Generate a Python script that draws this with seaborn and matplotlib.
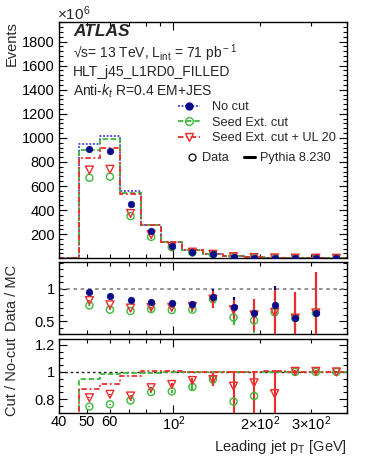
import numpy as np
import pandas as pd
import matplotlib
matplotlib.use("Agg")
import matplotlib.pyplot as plt
import seaborn as sns
from matplotlib.lines import Line2D
from matplotlib.ticker import FixedLocator, FuncFormatter, MultipleLocator, NullFormatter

# ---------------- data ----------------
bin_edges = [40, 47, 55.4, 65.3, 77.0, 90.8, 107.1, 126.3, 148.9, 175.5, 207.0, 244.0, 287.7, 339.3, 400]

# MC (Pythia) histograms, x10^6 events (first bin 40-47 empty)
mc_nocut = [0, 947, 1017, 556, 275, 136, 70, 37, 20, 9, 5, 2.5, 1.2, 0.6]
mc_seed = [0, 900, 989, 545, 274, 136, 70, 37, 20, 9, 5, 2.5, 1.2, 0.6]
mc_ul20 = [0, 831, 914, 535, 276, 136, 70, 37, 20, 9, 5, 2.5, 1.2, 0.6]

# Data, x10^6 events (bins from 47 GeV)
data_nocut = [906, 892, 453, 224, 105, 55, 34, 14.5, 6.5, 3.7, 1.4, 0.75, 0.35]
data_seed = [669, 678, 350, 178, 92, 48, 32, 11, 5.5, 3.0, 1.4, 0.75, 0.35]
data_ul20 = [733, 739, 372, 197, 98, 51, 33, 13, 6.0, 3.1, 1.4, 0.75, 0.35]

# Data / MC
dm_nocut = [0.959, 0.883, 0.832, 0.80, 0.79, 0.766, 0.882, 0.72, 0.63, 0.745, 0.55, 0.63, np.nan]
dm_seed = [0.745, 0.68, 0.659, 0.69, 0.674, 0.68, 0.842, 0.56, 0.515, 0.64, 0.55, 0.63, np.nan]
dm_ul20 = [0.82, 0.755, 0.705, 0.715, 0.715, 0.73, 0.842, 0.68, 0.60, 0.64, 0.55, 0.63, np.nan]
dm_err_nocut = [0.004, 0.004, 0.006, 0.01, 0.015, 0.03, 0.12, 0.15, 0.2, 0.3, 0.4, 0.62, np.nan]
dm_err_seed = [0.004, 0.004, 0.006, 0.01, 0.015, 0.03, 0.12, 0.11, 0.2, 0.3, 0.4, 0.62, np.nan]
dm_err_ul20 = [0.004, 0.004, 0.006, 0.01, 0.015, 0.03, 0.13, 0.15, 0.25, 0.34, 0.395, 0.625, np.nan]

# Cut / No-cut
mcr_seed = [0, 0.951, 0.985, 0.99, 0.995, 1.0, 1.0, 1.0, 1.0, 1.0, 1.0, 1.0, 1.0, 1.0]
mcr_ul20 = [0, 0.871, 0.913, 0.968, 1.008, 1.005, 1.0, 1.003, 1.0, 1.0, 1.01, 1.0, 1.0, 1.0]
cr_seed = [0.745, 0.762, 0.79, 0.852, 0.857, 0.89, 0.944, 0.782, 0.823, np.nan, 1.0, 1.0, 1.0]
cr_ul20 = [0.81, 0.835, 0.823, 0.884, 0.908, 0.937, 0.944, 0.895, 0.92, 0.84, 1.004, 1.004, 1.0]
cr_seed_lo = [0.005, 0.005, 0.005, 0.008, 0.01, 0.02, 0.05, 0.3, 0.3, np.nan, 0.01, 0.01, 0.01]
cr_seed_hi = [0.005, 0.005, 0.005, 0.008, 0.01, 0.02, 0.05, 0.05, 0.05, np.nan, 0.01, 0.01, 0.01]
cr_ul20_lo = [0.005, 0.005, 0.005, 0.008, 0.01, 0.02, 0.05, 0.3, 0.3, 0.3, 0.01, 0.01, 0.01]
cr_ul20_hi = [0.005, 0.005, 0.005, 0.008, 0.01, 0.02, 0.05, 0.11, 0.085, 0.177, 0.01, 0.01, 0.01]

x_ticks_minor = [40, 50, 60, 70, 80, 90, 200, 300, 400]
x_tick_labels = {40: "40", 50: "50", 60: "60", 200: r"$2{\times}10^{2}$", 300: r"$3{\times}10^{2}$"}

# ---------------- style ----------------
sns.set_style("ticks")
plt.rcParams["font.family"] = ["Liberation Sans", "DejaVu Sans"]
plt.rcParams["mathtext.fontset"] = "custom"
plt.rcParams["mathtext.rm"] = "Liberation Sans"
plt.rcParams["mathtext.it"] = "Liberation Sans:italic"
plt.rcParams["mathtext.bf"] = "Liberation Sans:bold"

NAVY = "#0a0a8c"
BLUE = "#3a3ae0"
GREEN = "#3cb83c"
RED = "#ee2b2b"
LS_BLUE = (0, (1, 1))
LS_GREEN = (0, (3, 1.5))
LS_RED = (0, (3, 1.5, 1, 1.5))
LW = 1.3
TICK_FS = 10.5

fig = plt.figure(figsize=(3.66, 4.74), dpi=100)
L, W = 0.1612, 0.7861
ax1 = fig.add_axes([L, 0.4551, W, 0.4991])
ax2 = fig.add_axes([L, 0.2947, W, 0.1519])
ax3 = fig.add_axes([L, 0.1293, W, 0.1549])

edges = np.array(bin_edges)
centers = np.sqrt(edges[1:-1] * edges[2:])


def step(ax, vals, color, ls):
    y = list(vals) + [vals[-1]]
    sns.lineplot(x=list(edges), y=y, ax=ax, color=color, linestyle=ls, lw=LW,
                 drawstyle="steps-post", estimator=None, sort=False)


# ---------------- top panel ----------------
step(ax1, mc_nocut, BLUE, LS_BLUE)
step(ax1, mc_seed, GREEN, LS_GREEN)
step(ax1, mc_ul20, RED, LS_RED)
sns.scatterplot(x=centers, y=data_seed, ax=ax1, marker="o", s=26, facecolor="none",
                edgecolor=GREEN, linewidth=1.0, zorder=4)
sns.scatterplot(x=centers, y=data_ul20, ax=ax1, marker="v", s=32, facecolor="none",
                edgecolor=RED, linewidth=1.0, zorder=5)
sns.scatterplot(x=centers, y=data_nocut, ax=ax1, marker="o", s=22, color=NAVY,
                edgecolor=NAVY, linewidth=0.5, zorder=6)

ax1.set_ylim(0, 1965)
ax1.yaxis.set_major_locator(FixedLocator([200, 400, 600, 800, 1000, 1200, 1400, 1600, 1800]))
ax1.yaxis.set_minor_locator(MultipleLocator(40))

# ---------------- middle panel ----------------
ax2.axhline(1.0, color="#8a8a8a", lw=1.3, ls=(0, (2, 2)), zorder=1)
for vals, err, col in [(dm_nocut, dm_err_nocut, NAVY), (dm_seed, dm_err_seed, GREEN),
                       (dm_ul20, dm_err_ul20, RED)]:
    ax2.errorbar(centers, vals, yerr=err, fmt="none", ecolor=col, elinewidth=1.5, zorder=3)
sns.scatterplot(x=centers, y=dm_seed, ax=ax2, marker="o", s=26, facecolor="none",
                edgecolor=GREEN, linewidth=1.0, zorder=4)
sns.scatterplot(x=centers, y=dm_ul20, ax=ax2, marker="v", s=32, facecolor="none",
                edgecolor=RED, linewidth=1.0, zorder=5)
sns.scatterplot(x=centers, y=dm_nocut, ax=ax2, marker="o", s=22, color=NAVY,
                edgecolor=NAVY, linewidth=0.5, zorder=6)
ax2.set_ylim(0.3, 1.41)
ax2.yaxis.set_major_locator(FixedLocator([0.5, 1.0]))
ax2.yaxis.set_minor_locator(MultipleLocator(0.1))

# ---------------- bottom panel ----------------
step(ax3, mcr_seed, GREEN, LS_GREEN)
step(ax3, mcr_ul20, RED, LS_RED)
ax3.axhline(1.0, color="#222222", lw=1.0, ls=(0, (2, 2)), zorder=1)
ax3.errorbar(centers, cr_seed, yerr=[cr_seed_lo, cr_seed_hi], fmt="none", ecolor=GREEN,
             elinewidth=1.5, zorder=3)
ax3.errorbar(centers, cr_ul20, yerr=[cr_ul20_lo, cr_ul20_hi], fmt="none", ecolor=RED,
             elinewidth=1.5, zorder=3)
sns.scatterplot(x=centers, y=cr_seed, ax=ax3, marker="o", s=26, facecolor="none",
                edgecolor=GREEN, linewidth=1.0, zorder=4)
sns.scatterplot(x=centers, y=cr_ul20, ax=ax3, marker="v", s=32, facecolor="none",
                edgecolor=RED, linewidth=1.0, zorder=5)
ax3.set_ylim(0.7, 1.24)
ax3.yaxis.set_major_locator(FixedLocator([0.8, 1.0, 1.2]))
ax3.yaxis.set_minor_locator(MultipleLocator(0.05))

# ---------------- common axes formatting ----------------
yfmt = FuncFormatter(lambda v, p: f"{v:g}")
for ax in (ax1, ax2, ax3):
    ax.set_xscale("log")
    ax.set_xlim(40, 400)
    ax.xaxis.set_major_locator(FixedLocator([100]))
    ax.xaxis.set_minor_locator(FixedLocator(x_ticks_minor))
    ax.xaxis.set_major_formatter(NullFormatter())
    ax.xaxis.set_minor_formatter(NullFormatter())
    ax.yaxis.set_major_formatter(yfmt)
    ax.tick_params(which="both", direction="in", top=True, right=True, colors="black",
                   labelsize=TICK_FS, pad=3)
    ax.tick_params(which="major", length=5.5, width=0.8)
    ax.tick_params(which="minor", length=3, width=0.8)
    for s in ax.spines.values():
        s.set_linewidth(1.0)
        s.set_color("black")
    ax.set_xlabel("")
    ax.set_ylabel("")

ax3.xaxis.set_major_formatter(FuncFormatter(lambda v, p: r"$10^{2}$"))
ax3.xaxis.set_minor_formatter(FuncFormatter(lambda v, p: x_tick_labels.get(int(round(v)), "")))
ax3.tick_params(axis="x", which="both", pad=1.5)

# ---------------- text ----------------
def fx(px):
    return px / 366.0


def fy(py):
    return 1 - py / 474.0


fig.text(fx(12), fy(21), "Events", rotation=90, ha="center", va="top", fontsize=10.5)
fig.text(fx(12), fy(298), "Data / MC", rotation=90, ha="center", va="center", fontsize=10.5)
fig.text(fx(12), fy(377), "Cut / No-cut", rotation=90, ha="center", va="center", fontsize=10.5)
fig.text(fx(347), fy(447), r"Leading jet p$_{\rm T}$ [GeV]", ha="right", va="center", fontsize=10.5)
fig.text(fx(57), fy(14), r"$\times10^{6}$", ha="left", va="center", fontsize=11)

fig.text(fx(73), fy(32), "ATLAS", ha="left", va="center", fontsize=12.5,
         fontweight="bold", fontstyle="italic")
fig.text(fx(73), fy(53), r"√s= 13 TeV, L$_{\rm int}$ = 71 pb$^{\rm -1}$", ha="left", va="center", fontsize=10)
fig.text(fx(73), fy(72), "HLT_j45_L1RD0_FILLED", ha="left", va="center", fontsize=10)
fig.text(fx(73), fy(91), r"Anti-$k_{t}$ R=0.4 EM+JES", ha="left", va="center", fontsize=10)

# ---------------- legends ----------------
h1 = [Line2D([], [], color=BLUE, ls=LS_BLUE, lw=LW, marker="o", ms=5, mfc=NAVY, mec=NAVY),
      Line2D([], [], color=GREEN, ls=LS_GREEN, lw=LW, marker="o", ms=5.5, mfc="none", mec=GREEN),
      Line2D([], [], color=RED, ls=LS_RED, lw=LW, marker="v", ms=6, mfc="none", mec=RED)]
leg1 = ax1.legend(h1, ["No cut", "Seed Ext. cut", "Seed Ext. cut + UL 20"],
                  loc="upper left", bbox_to_anchor=(fx(178), fy(101)), bbox_transform=fig.transFigure,
                  frameon=False, fontsize=9.2, handlelength=1.75, handletextpad=0.9,
                  labelspacing=0.28, borderpad=0, borderaxespad=0)
ax1.add_artist(leg1)
h2 = [Line2D([], [], ls="none", marker="o", ms=5, mfc="none", mec="black", mew=0.9),
      Line2D([], [], color="black", lw=2.2)]
ax1.legend(h2, ["Data", "Pythia 8.230"], ncol=2, loc="upper left",
           bbox_to_anchor=(fx(187), fy(152)), bbox_transform=fig.transFigure,
           frameon=False, fontsize=9.2, handlelength=0.8, handletextpad=0.4,
           columnspacing=1.2, borderpad=0, borderaxespad=0)

fig.savefig("out.png", dpi=100)
